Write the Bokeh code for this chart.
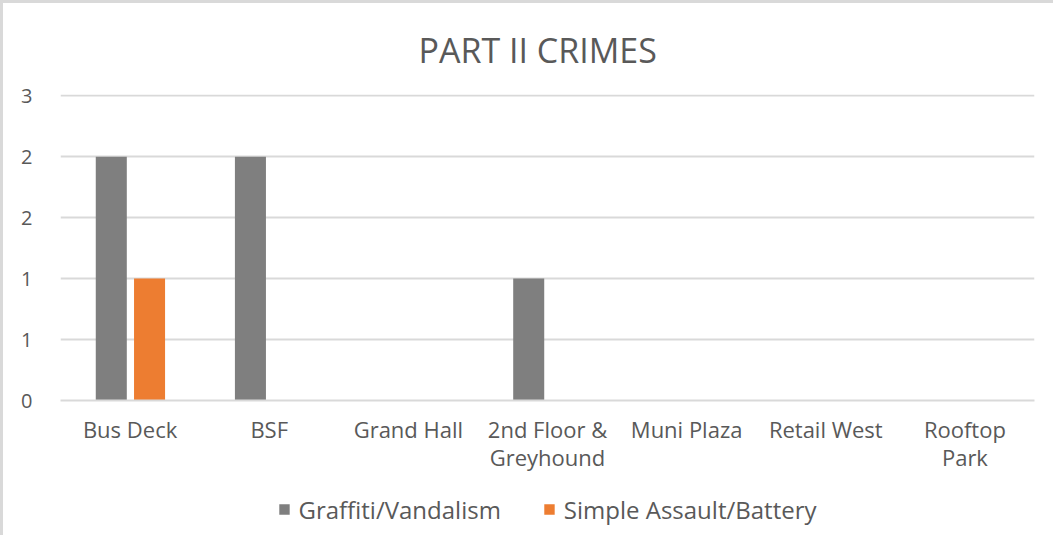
from bokeh.plotting import figure
from bokeh.models import ColumnDataSource, FactorRange, Range1d, FixedTicker, Legend, LegendItem
from bokeh.layouts import column
from bokeh.transform import dodge
from bokeh.embed import file_html
from bokeh.resources import INLINE

categories = ["Bus Deck", "BSF", "Grand Hall", "2nd Floor &\nGreyhound", "Muni Plaza", "Retail West", "Rooftop\nPark"]
graffiti = [2, 2, 0, 1, 0, 0, 0]
assault = [1, 0, 0, 0, 0, 0, 0]
series_names = ["Graffiti/Vandalism", "Simple Assault/Battery"]
series_colors = ["#7f7f7f", "#ed7d31"]
y_ticks = [0, 0.5, 1, 1.5, 2, 2.5]
y_tick_labels = ["0", "1", "1", "2", "2", "3"]

FONT = "Open Sans"
TXT = "#595959"
GRID = "#d9d9d9"

src = ColumnDataSource(dict(cat=categories, g=graffiti, a=assault))

p = figure(width=1050, height=480, x_range=FactorRange(*categories), y_range=Range1d(0, 2.51),
           output_backend="svg", toolbar_location=None,
           min_border_left=57, min_border_right=19, min_border_top=89, min_border_bottom=83)
p.outline_line_color = None
p.background_fill_color = "white"
p.border_fill_color = "white"

r1 = p.vbar(x=dodge("cat", -0.135, range=p.x_range), top="g", width=0.223, source=src,
            fill_color=series_colors[0], line_color=None)
r2 = p.vbar(x=dodge("cat", 0.14, range=p.x_range), top="a", width=0.223, source=src,
            fill_color=series_colors[1], line_color=None)

p.title.text = "PART II CRIMES"
p.title.align = "left"
p.title.offset = 358
p.title.text_font = FONT
p.title.text_font_size = "34px"
p.title.text_font_style = "normal"
p.title.text_color = TXT
p.title.standoff = 43

p.yaxis.ticker = FixedTicker(ticks=y_ticks)
p.yaxis.major_label_overrides = {t: l for t, l in zip(y_ticks, y_tick_labels)}
p.yaxis.axis_line_color = None
p.yaxis.major_tick_line_color = None
p.yaxis.minor_tick_line_color = None
p.yaxis.major_label_text_font = FONT
p.yaxis.major_label_text_font_size = "20px"
p.yaxis.major_label_text_color = TXT
p.yaxis.major_label_standoff = 22

p.xaxis.axis_line_color = GRID
p.xaxis.axis_line_width = 2
p.xaxis.major_tick_line_color = None
p.xaxis.minor_tick_line_color = None
p.xaxis.major_label_text_font = FONT
p.xaxis.major_label_text_font_size = "22px"
p.xaxis.major_label_text_color = TXT
p.xaxis.major_label_text_line_height = 0.95
p.xaxis.major_label_standoff = 7

p.xgrid.grid_line_color = None
p.ygrid.grid_line_color = GRID
p.ygrid.grid_line_width = 2

# legend strip below the chart (swatch renderers hold one zero-size bar, so nothing is drawn)
lg = figure(width=1050, height=52, output_backend="svg", toolbar_location=None,
            x_range=Range1d(0, 1), y_range=Range1d(0, 1),
            min_border_left=57, min_border_right=19, min_border_top=0, min_border_bottom=0)
lg.axis.visible = False
lg.grid.visible = False
lg.outline_line_color = None
lg.background_fill_color = "white"
lg.border_fill_color = "white"
e = ColumnDataSource(dict(x=[0.5], bottom=[0.5], top=[0.5]))
d1 = lg.vbar(x="x", bottom="bottom", top="top", width=0, source=e, fill_color=series_colors[0], line_color=None)
d2 = lg.vbar(x="x", bottom="bottom", top="top", width=0, source=e, fill_color=series_colors[1], line_color=None)

legend = Legend(items=[LegendItem(label=series_names[0], renderers=[d1]),
                       LegendItem(label=series_names[1], renderers=[d2])],
                orientation="horizontal", location="center",
                label_text_font=FONT, label_text_font_size="24px", label_text_color=TXT,
                glyph_width=13, glyph_height=13, label_standoff=8, spacing=42,
                border_line_color=None, background_fill_alpha=0, margin=0, padding=2)
lg.add_layout(legend, "center")

layout = column(p, lg, spacing=0, styles={"border-left": "3px solid #d9d9d9", "border-top": "3px solid #d9d9d9"})

open("out.html", "w").write(file_html(layout, INLINE))
